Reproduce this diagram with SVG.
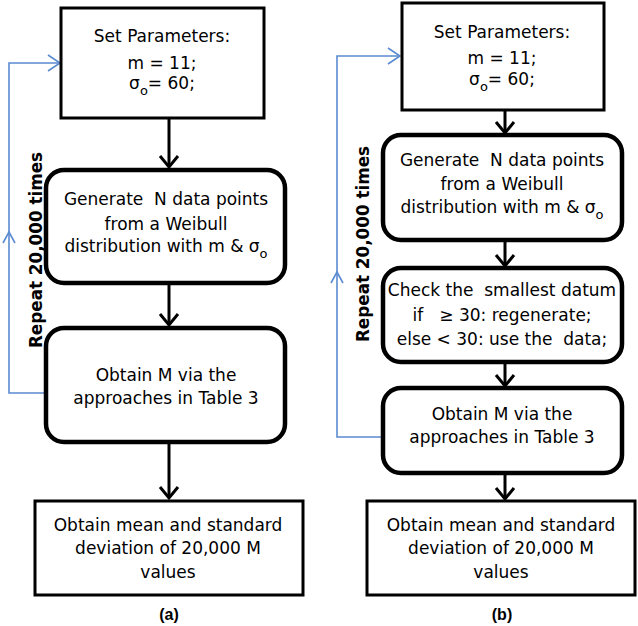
<svg xmlns="http://www.w3.org/2000/svg" width="638" height="626" viewBox="0 0 638 626">
<defs>
<style>
.box{fill:#fff;stroke:#000;stroke-width:3}
.rbox{fill:#fff;stroke:#000;stroke-width:4.5}
.t{font-family:"DejaVu Sans","Liberation Sans",sans-serif;font-size:17px;fill:#000;text-anchor:middle;white-space:pre}
.rep{font-family:"DejaVu Sans","Liberation Sans",sans-serif;font-size:16.8px;font-weight:bold;fill:#000;text-anchor:middle}
.lab{font-family:"Liberation Sans",Arial,sans-serif;font-size:16px;font-weight:bold;fill:#000;text-anchor:middle}
.arr{fill:none;stroke:#000;stroke-width:3;marker-end:url(#ah)}
.loop{fill:none;stroke:#5b8bd0;stroke-width:1.6}
.sub{font-size:13px}
</style>
<marker id="ah" markerUnits="userSpaceOnUse" markerWidth="24" markerHeight="24" viewBox="-12 -12 24 24" refX="0" refY="0" orient="auto">
<polyline points="-11,-9 0,0 -11,9" fill="none" stroke="#000" stroke-width="3"/>
</marker>
</defs>

<g id="connectors">
<line class="arr" x1="169" y1="118" x2="169" y2="167"/>
<line class="arr" x1="169" y1="283" x2="169" y2="325"/>
<line class="arr" x1="169" y1="442" x2="169" y2="498"/>
<path class="loop" d="M46,393 H9 V63 H60"/>
<polyline class="loop" points="3,243 9,232 15,243"/>
<polyline class="loop" points="48,55 60,63 48,71"/>

<line class="arr" x1="505" y1="110" x2="505" y2="133"/>
<line class="arr" x1="505" y1="240" x2="505" y2="266"/>
<line class="arr" x1="505" y1="362" x2="505" y2="386"/>
<line class="arr" x1="505" y1="473" x2="505" y2="499"/>
<path class="loop" d="M383,437 H337 V56 H400"/>
<polyline class="loop" points="331,283 337,272 343,283"/>
<polyline class="loop" points="388,48 400,56 388,64"/>
</g>

<g id="a-set">
<rect class="box" x="61" y="8" width="203" height="110"/>
<text class="t" x="162" y="42">Set Parameters:</text>
<text class="t" x="162" y="69">m = 11;</text>
<text class="t" x="162" y="89">σ<tspan class="sub" dy="6">o</tspan><tspan dy="-6">= 60;</tspan></text>
</g>
<g id="a-generate">
<rect class="rbox" x="46" y="170" width="239" height="113" rx="18"/>
<text class="t" x="166" y="205">Generate  N data points</text>
<text class="t" x="166" y="230">from a Weibull</text>
<text class="t" x="166" y="252">distribution with m &amp; σ<tspan class="sub" dy="6">o</tspan></text>
</g>
<g id="a-obtain">
<rect class="rbox" x="46" y="328" width="239" height="114" rx="18"/>
<text class="t" x="166" y="381">Obtain M via the</text>
<text class="t" x="166" y="404">approaches in Table 3</text>
</g>
<g id="a-mean">
<rect class="box" x="35" y="501" width="268" height="94"/>
<text class="t" x="168" y="531">Obtain mean and standard</text>
<text class="t" x="168" y="554">deviation of 20,000 M</text>
<text class="t" x="168" y="578">values</text>
</g>
<g id="a-repeat">
<text class="rep" transform="translate(42,250) rotate(-90)">Repeat 20,000 times</text>
</g>
<text class="lab" x="169" y="620">(a)</text>

<g id="b-set">
<rect class="box" x="402" y="3" width="202" height="107"/>
<text class="t" x="502" y="38">Set Parameters:</text>
<text class="t" x="502" y="64">m = 11;</text>
<text class="t" x="502" y="85">σ<tspan class="sub" dy="6">o</tspan><tspan dy="-6">= 60;</tspan></text>
</g>
<g id="b-generate">
<rect class="rbox" x="383" y="135" width="239" height="105" rx="18"/>
<text class="t" x="502" y="166">Generate  N data points</text>
<text class="t" x="502" y="190">from a Weibull</text>
<text class="t" x="502" y="213">distribution with m &amp; σ<tspan class="sub" dy="6">o</tspan></text>
</g>
<g id="b-check">
<rect class="rbox" x="383" y="268" width="239" height="94" rx="18"/>
<text class="t" x="502" y="296">Check the  smallest datum</text>
<text class="t" x="502" y="321">if   ≥ 30: regenerate;</text>
<text class="t" x="502" y="345">else &lt; 30: use the  data;</text>
</g>
<g id="b-obtain">
<rect class="rbox" x="383" y="388" width="239" height="85" rx="18"/>
<text class="t" x="502" y="420">Obtain M via the</text>
<text class="t" x="502" y="443">approaches in Table 3</text>
</g>
<g id="b-mean">
<rect class="box" x="367" y="501" width="268" height="94"/>
<text class="t" x="501" y="531">Obtain mean and standard</text>
<text class="t" x="501" y="554">deviation of 20,000 M</text>
<text class="t" x="501" y="578">values</text>
</g>
<g id="b-repeat">
<text class="rep" transform="translate(369,244) rotate(-90)">Repeat 20,000 times</text>
</g>
<text class="lab" x="502" y="620">(b)</text>
</svg>
